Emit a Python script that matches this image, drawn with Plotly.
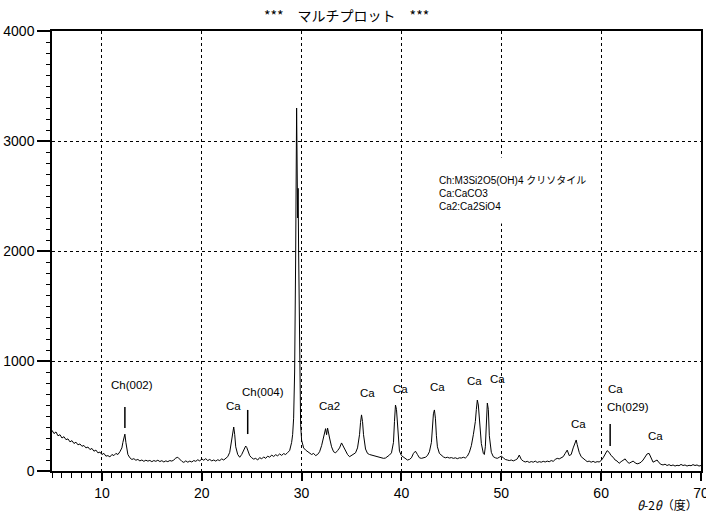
import plotly.graph_objects as go

# ---------------- data ----------------
two_theta = [
    5.0, 5.2, 5.4, 5.6, 5.8, 6.0, 6.2, 6.4, 6.6, 6.8, 7.0, 7.2, 7.4, 7.6, 7.8,
    8.0, 8.2, 8.4, 8.6, 8.8, 9.0, 9.2, 9.4, 9.6, 9.8, 10.0, 10.2, 10.4, 10.6, 10.8,
    11.0, 11.2, 11.4, 11.6, 11.8, 12.0, 12.1, 12.2, 12.3, 12.4, 12.5, 12.6, 12.8,
    13.0, 13.2, 13.4, 13.6, 13.8, 14.0, 14.2, 14.4, 14.6, 14.8, 15.0, 15.2, 15.4,
    15.6, 15.8, 16.0, 16.2, 16.4, 16.6, 16.8, 17.0, 17.2, 17.4, 17.6, 17.8, 18.0,
    18.2, 18.4, 18.6, 18.8, 19.0, 19.2, 19.4, 19.6, 19.8, 20.0, 20.2, 20.4, 20.6,
    20.8, 21.0, 21.2, 21.4, 21.6, 21.8, 22.0, 22.2, 22.4, 22.6, 22.8, 23.0, 23.1,
    23.2, 23.3, 23.4, 23.6, 23.8, 24.0, 24.2, 24.4, 24.5, 24.6, 24.8, 25.0, 25.2,
    25.4, 25.6, 25.8, 26.0, 26.2, 26.4, 26.6, 26.8, 27.0, 27.2, 27.4, 27.6, 27.8,
    28.0, 28.2, 28.4, 28.6, 28.8, 29.0, 29.1, 29.2, 29.3, 29.4, 29.5, 29.6, 29.65,
    29.7, 29.8, 29.9, 30.0, 30.2, 30.4, 30.6, 30.8, 31.0, 31.2, 31.4, 31.6, 31.8,
    32.0, 32.2, 32.4, 32.5, 32.6, 32.8, 33.0, 33.2, 33.4, 33.6, 33.8, 34.0, 34.2,
    34.4, 34.6, 34.8, 35.0, 35.2, 35.4, 35.6, 35.8, 35.9, 36.0, 36.1, 36.2, 36.4,
    36.6, 36.8, 37.0, 37.2, 37.4, 37.6, 37.8, 38.0, 38.2, 38.4, 38.6, 38.8, 39.0,
    39.2, 39.3, 39.4, 39.5, 39.6, 39.7, 39.8, 40.0, 40.2, 40.4, 40.6, 40.8, 41.0,
    41.2, 41.4, 41.6, 41.8, 42.0, 42.2, 42.4, 42.6, 42.8, 43.0, 43.1, 43.2, 43.3,
    43.4, 43.5, 43.6, 43.8, 44.0, 44.2, 44.4, 44.6, 44.8, 45.0, 45.2, 45.4, 45.6,
    45.8, 46.0, 46.2, 46.4, 46.6, 46.8, 47.0, 47.2, 47.4, 47.5, 47.6, 47.7, 47.8,
    48.0, 48.2, 48.3, 48.4, 48.5, 48.6, 48.7, 48.8, 49.0, 49.2, 49.4, 49.6, 49.8,
    50.0, 50.2, 50.4, 50.6, 50.8, 51.0, 51.2, 51.4, 51.6, 51.8, 52.0, 52.2, 52.4,
    52.6, 52.8, 53.0, 53.2, 53.4, 53.6, 53.8, 54.0, 54.2, 54.4, 54.6, 54.8, 55.0,
    55.2, 55.4, 55.6, 55.8, 56.0, 56.2, 56.4, 56.6, 56.8, 57.0, 57.2, 57.4, 57.5,
    57.6, 57.8, 58.0, 58.2, 58.4, 58.6, 58.8, 59.0, 59.2, 59.4, 59.6, 59.8, 60.0,
    60.2, 60.4, 60.6, 60.8, 61.0, 61.2, 61.4, 61.6, 61.8, 62.0, 62.2, 62.4, 62.6,
    62.8, 63.0, 63.2, 63.4, 63.6, 63.8, 64.0, 64.2, 64.4, 64.6, 64.8, 65.0, 65.2,
    65.4, 65.6, 65.8, 66.0, 66.2, 66.4, 66.6, 66.8, 67.0, 67.2, 67.4, 67.6, 67.8,
    68.0, 68.2, 68.4, 68.6, 68.8, 69.0, 69.2, 69.4, 69.6, 69.8, 70.0,
]

intensity = [
    370, 340, 355, 320, 330, 300, 312, 285, 292, 265, 276, 250, 262, 238, 246,
    225, 232, 210, 218, 195, 205, 180, 190, 165, 172, 150, 160, 135, 140, 128,
    150, 140, 160, 150, 175, 210, 260, 320, 335, 260, 190, 150, 120,
    105, 112, 98, 105, 92, 100, 88, 98, 90, 96, 85, 95, 88,
    98, 86, 94, 82, 92, 85, 95, 90, 100, 118, 125, 105, 88,
    78, 92, 80, 90, 82, 95, 88, 102, 92, 110, 98, 112, 95,
    105, 92, 100, 90, 102, 95, 110, 100, 115, 130, 170, 280, 370,
    400, 330, 220, 150, 125, 150, 195, 227, 215, 190, 140, 120, 108,
    115, 100, 122, 110, 128, 115, 135, 125, 145, 132, 148, 138, 155,
    142, 158, 150, 168, 185, 260, 330, 480, 900, 1900, 3300, 2300, 2570,
    2000, 900, 420, 280, 210, 190, 175, 165, 150, 160, 140, 150, 175,
    230, 310, 385, 330, 390, 300, 220, 175, 165, 185, 210, 255, 215,
    180, 150, 130, 140, 150, 165, 210, 330, 440, 510, 450, 330, 200,
    160, 150, 145, 140, 130, 125, 122, 118, 115, 118, 130, 145, 165,
    260, 450, 600, 560, 430, 280, 180, 140, 125, 110, 100, 105, 120,
    160, 180, 150, 120, 115, 118, 125, 140, 175, 260, 400, 520, 555,
    480, 320, 220, 160, 140, 128, 120, 125, 118, 122, 115, 120, 112,
    120, 118, 125, 118, 135, 170, 230, 330, 450, 560, 645, 600, 450,
    250, 160, 150, 220, 450, 618, 560, 320, 170, 130, 120, 115, 125,
    135, 120, 105, 100, 95, 100, 92, 100, 110, 145, 105, 90, 82,
    88, 78, 86, 80, 90, 78, 85, 80, 88, 82, 90, 84, 95,
    88, 105, 115, 110, 120, 130, 160, 190, 140, 150, 210, 270, 282,
    240, 170, 130, 118, 100, 85, 90, 80, 88, 78, 85, 82, 95,
    120, 150, 185, 170, 140, 125, 100, 90, 70, 85, 95, 110, 85,
    70, 80, 90, 75, 65, 70, 80, 100, 130, 155, 160, 110, 80,
    90, 100, 75, 60, 55, 62, 50, 58, 48, 55, 45, 52, 48,
    60, 50, 55, 45, 52, 48, 58, 50, 55, 45, 50,
]

# peak labels (text, 2θ centre, intensity level of label)
label_text = ["Ch(002)", "Ca", "Ch(004)", "Ca2", "Ca", "Ca", "Ca", "Ca", "Ca",
              "Ca", "Ca", "Ch(029)", "Ca"]
label_theta = [13.0, 23.2, 26.1, 32.75, 36.6, 39.9, 43.6, 47.3, 49.6,
               57.7, 61.4, 62.7, 65.4]
label_level = [782, 590, 718, 590, 709, 745, 764, 818, 836,
               427, 745, 582, 318]

# marker bars for chrysotile reflections
bar_theta = [12.3, 24.6, 60.9]
bar_low = [391, 336, 227]
bar_high = [582, 555, 427]

legend_lines = ["Ch:M3Si2O5(OH)4 クリソタイル", "Ca:CaCO3", "Ca2:Ca2SiO4"]

x_ticks = [10, 20, 30, 40, 50, 60, 70]
y_ticks = [0, 1000, 2000, 3000, 4000]

# ---------------- figure ----------------
SANS = "Liberation Sans, Arial, Noto Sans CJK JP, sans-serif"

fig = go.Figure()
fig.add_trace(go.Scatter(x=two_theta, y=intensity, mode="lines",
                         line=dict(color="black", width=1), showlegend=False,
                         hoverinfo="skip"))

shapes = []
for t, lo, hi in zip(bar_theta, bar_low, bar_high):
    shapes.append(dict(type="line", xref="x", yref="y", x0=t, x1=t, y0=lo, y1=hi,
                       line=dict(color="black", width=1.5)))
# white box behind legend text (hides grid line)
shapes.append(dict(type="rect", xref="x", yref="y", x0=43.3, x1=59.2, y0=2250, y1=2850,
                   fillcolor="white", line=dict(width=0), layer="between"))

annotations = []
for txt, t, lv in zip(label_text, label_theta, label_level):
    annotations.append(dict(x=t, y=lv, xref="x", yref="y", text=txt, showarrow=False,
                            font=dict(family=SANS, size=11.5, color="black"),
                            xanchor="center", yanchor="middle"))
annotations.append(dict(x=43.6, y=2527, xref="x", yref="y", text="<br>".join(legend_lines),
                        showarrow=False, align="left",
                        font=dict(family=SANS, size=10, color="black"),
                        xanchor="left", yanchor="middle"))
annotations.append(dict(x=(346 - 52) / 649, y=1 + (31 - 15) / 440, xref="paper", yref="paper",
                        text="***　マルチプロット　***", showarrow=False,
                        font=dict(family="Noto Sans CJK JP, sans-serif", size=14, color="black"),
                        xanchor="center", yanchor="middle"))
annotations.append(dict(x=(700 - 52) / 649, y=-(505 - 471) / 440, xref="paper", yref="paper",
                        text="<i>θ</i>-2<i>θ</i>（度）", showarrow=False,
                        font=dict(family="Noto Sans CJK JP, sans-serif", size=12, color="black"),
                        xanchor="right", yanchor="middle"))

fig.update_layout(
    width=706, height=513,
    margin=dict(l=52, r=5, t=31, b=42, autoexpand=False),
    paper_bgcolor="white", plot_bgcolor="white",
    shapes=shapes, annotations=annotations,
    xaxis=dict(range=[5, 70], tickvals=x_ticks, ticks="outside", ticklen=8,
               tickcolor="black", tickwidth=1.5, ticklabeloverflow="allow",
               automargin=False,
               showline=True, linecolor="black", linewidth=1.5, mirror=True,
               showgrid=True, gridcolor="black", gridwidth=1, griddash="3px,3px",
               zeroline=False,
               minor=dict(dtick=1, tick0=0, ticks="outside", ticklen=5, tickcolor="black",
                          tickwidth=1, showgrid=False),
               tickfont=dict(family=SANS, size=14, color="black")),
    yaxis=dict(range=[0, 4000], tickvals=y_ticks, ticks="outside", ticklen=13,
               tickcolor="black", tickwidth=1.5, automargin=False,
               showline=True, linecolor="black", linewidth=1.5, mirror=True,
               showgrid=True, gridcolor="black", gridwidth=1, griddash="3px,3px",
               zeroline=False,
               minor=dict(dtick=100, tick0=0, ticks="outside", ticklen=4, tickcolor="black",
                          tickwidth=1, showgrid=False),
               tickfont=dict(family=SANS, size=14, color="black")),
)

fig.write_html("out.html")
